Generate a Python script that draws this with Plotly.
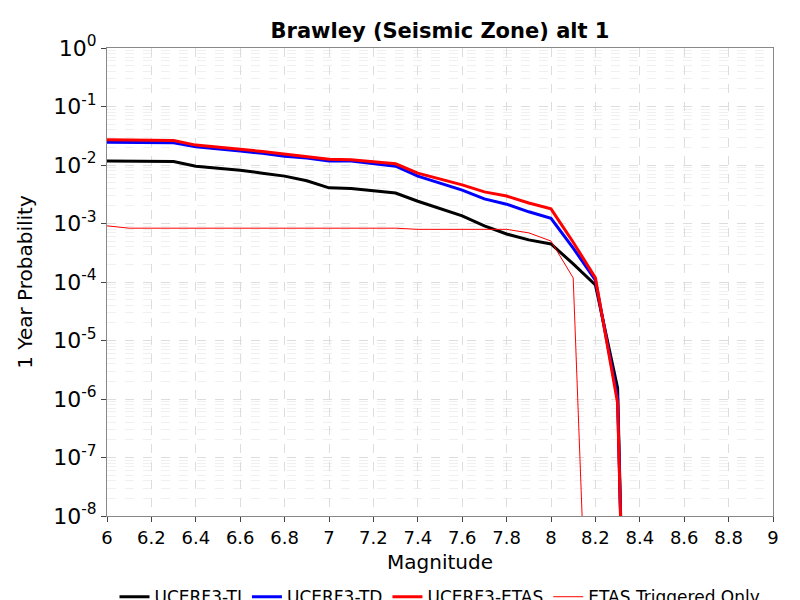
import plotly.graph_objects as go

mags = [6.0,6.1,6.2,6.3,6.4,6.5,6.6,6.7,6.8,6.9,7.0,7.1,7.2,7.3,7.4,7.5,7.6,7.7,7.8,7.9,8.0,8.1,8.2,8.3,8.32]
ti_log = [-1.93,-1.93,-1.94,-1.94,-2.02,-2.05,-2.09,-2.14,-2.19,-2.27,-2.39,-2.40,-2.44,-2.48,-2.62,-2.74,-2.87,-3.04,-3.18,-3.28,-3.35,-3.69,-4.05,-5.81,-9]
td_log = [-1.61,-1.61,-1.62,-1.62,-1.69,-1.72,-1.76,-1.80,-1.85,-1.88,-1.93,-1.93,-1.98,-2.02,-2.19,-2.31,-2.43,-2.58,-2.67,-2.80,-2.91,-3.42,-3.97,-5.98,-9]
etas_log = [-1.57,-1.57,-1.58,-1.58,-1.66,-1.69,-1.73,-1.77,-1.81,-1.85,-1.90,-1.91,-1.94,-1.98,-2.14,-2.24,-2.34,-2.46,-2.53,-2.65,-2.75,-3.32,-3.93,-6.07,-9]
trig_mags = [6.0,6.1,6.2,6.3,6.4,6.5,6.6,6.7,6.8,6.9,7.0,7.1,7.2,7.3,7.4,7.5,7.6,7.7,7.8,7.9,8.0,8.1,8.15]
trig_log = [-3.04,-3.08,-3.08,-3.08,-3.08,-3.08,-3.08,-3.08,-3.08,-3.08,-3.08,-3.08,-3.08,-3.08,-3.10,-3.10,-3.10,-3.10,-3.10,-3.16,-3.30,-3.93,-9]

fig = go.Figure()
def tr(x, lg, name, color, w):
    fig.add_trace(go.Scatter(x=x, y=[10**v for v in lg], mode="lines", name=name,
                             line=dict(color=color, width=w)))
tr(mags, ti_log, "UCERF3-TI", "black", 3)
tr(mags, td_log, "UCERF3-TD", "blue", 3)
tr(mags, etas_log, "UCERF3-ETAS", "red", 3)
tr(trig_mags, trig_log, "ETAS Triggered Only", "red", 1)

fig.update_layout(
    width=800, height=600, plot_bgcolor="white", paper_bgcolor="white",
    font=dict(family="DejaVu Sans", color="black"),
    title=dict(text="<b>Brawley (Seismic Zone) alt 1</b>", x=0.54, xanchor="center", y=0.975, font=dict(size=21)),
    margin=dict(l=99, r=35, t=40, b=92, autoexpand=False),
    legend=dict(orientation="h", x=0.5, xanchor="center", y=-0.135, yanchor="top",
                font=dict(size=17), itemwidth=30, tracegroupgap=0, entrywidthmode="pixels"),
    showlegend=True,
)
fig.update_xaxes(range=[6, 9], dtick=0.2, tickfont=dict(size=18), showgrid=True, gridcolor="#dddddd",
                 griddash="dash", showline=True, linecolor="#888", mirror=True, ticks="outside",
                 title=dict(text="Magnitude", font=dict(size=20), standoff=8), zeroline=False, automargin=False)
fig.update_yaxes(type="log", range=[-8, 0], tickvals=[10**-k for k in range(9)],
                 ticktext=["10<sup>%d</sup>" % (-k) if k else "10<sup>0</sup>" for k in range(9)],
                 tickfont=dict(size=22), showgrid=True, gridcolor="#dddddd", griddash="dash",
                 minor=dict(showgrid=True, gridcolor="#f0f0f0", griddash="dash", dtick="D1"),
                 showline=True, linecolor="#888", mirror=True, ticks="outside",
                 title=dict(text="1 Year Probability", font=dict(size=20)), zeroline=False, automargin=False)
fig.write_html("out.html")
